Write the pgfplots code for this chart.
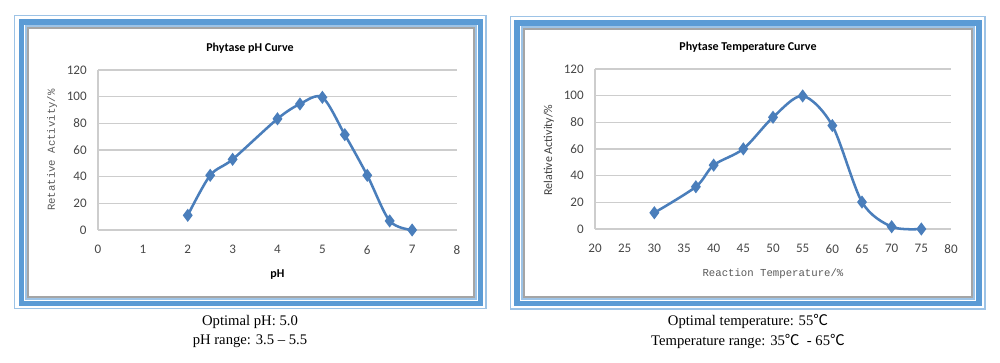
\documentclass[border=0pt]{standalone}
\usepackage{pgfplots}
\pgfplotsset{compat=1.18}
\usepackage{fontspec}
\setmainfont{Carlito}
\newfontfamily\serif{Liberation Serif}
\newfontfamily\mono{Liberation Mono}
\newfontfamily\cjk{Noto Sans CJK SC}
\definecolor{linec}{RGB}{74,126,187}
\definecolor{band}{RGB}{91,155,213}
\definecolor{lightb}{RGB}{157,195,230}
\definecolor{frameg}{RGB}{165,165,165}
\definecolor{gridc}{RGB}{205,205,205}
\pgfplotsset{
  chartstyle/.style={
    scale only axis, height=120pt,
    ymin=0, ymax=120, ytick={0,20,...,120},
    ymajorgrids, grid style={gridc, line width=0.9pt},
    axis x line*=bottom, axis y line*=left,
    axis line style={gridc, line width=0.9pt, -},
    major tick length=0pt,
    tick label style={font=\fontsize{9.8}{11}\selectfont, text=black!72},
    /pgf/number format/assume math mode=true,
    yticklabel style={xshift=-5pt},
    xticklabel style={yshift=-8pt},
    clip=false,
  },
  curvestyle/.style={color=linec, line width=1.9pt, smooth, tension=0.5,
    mark=diamond*, mark size=3.4pt, mark options={solid, fill=linec}},
}
\begin{document}
\begin{tikzpicture}[x=0.75pt,y=-0.75pt]
\path[use as bounding box] (0,0) rectangle (1000,362);
% left panel frame
\draw[lightb, line width=1.3pt] (14.5,15.5) rectangle (486,308.5);
\draw[band, line width=3.8pt] (21.5,22) rectangle (480.5,303.5);
\draw[lightb, line width=1pt] (26,26) rectangle (476,299);
\draw[frameg, line width=1.1pt] (28,28) rectangle (474,297);
% right panel frame
\draw[lightb, line width=1.3pt] (510.5,16.5) rectangle (985,309);
\draw[band, line width=3.8pt] (517,23) rectangle (979,303.5);
\draw[lightb, line width=1pt] (522,27) rectangle (974,299);
\draw[frameg, line width=1.1pt] (524,29) rectangle (972,297);

\begin{axis}[chartstyle, at={(73.5pt,-172.5pt)}, anchor=south west,
  width=269.25pt, xmin=0, xmax=8, xtick={0,1,...,8}]
\addplot[curvestyle] coordinates {
 (2,11) (2.5,41) (3,53) (4,83.4) (4.5,94.5) (5,99.5) (5.5,71.5) (6,41) (6.5,6.8) (7,0)};
\end{axis}

\begin{axis}[chartstyle, at={(446.25pt,-171.75pt)}, anchor=south west,
  width=267pt, xmin=20, xmax=80, xtick={20,25,...,80}]
\addplot[curvestyle] coordinates {
 (30,12.2) (37,31.7) (40,47.9) (45,60.1) (50,83.8) (55,99.8) (60,77.6) (65,20.2) (70,1.7) (75,0)};
\end{axis}

\node[font=\bfseries\fontsize{9}{11}\selectfont] at (250,48) {Phytase pH Curve};
\node[font=\bfseries\fontsize{9}{11}\selectfont] at (748,47) {Phytase Temperature Curve};
\node[rotate=90, font=\mono\fontsize{8}{10}\selectfont, text=black!65] at (52,150) {Retative Activity/\%};
\node[rotate=90, font=\fontsize{9}{11}\selectfont, text=black!75] at (549,150) {Relative Activity/\%};
\node[font=\bfseries\fontsize{9}{11}\selectfont] at (277.5,275) {pH};
\node[font=\mono\fontsize{8}{10}\selectfont, text=black!65] at (773,274) {Reaction Temperature/\%};

\node[font=\serif\fontsize{11}{13}\selectfont] at (250,321.5) {Optimal pH: 5.0};
\node[font=\serif\fontsize{11}{13}\selectfont] at (250,341.5) {pH range: 3.5 – 5.5};
\node[font=\serif\fontsize{11}{13}\selectfont] at (748,321.5) {Optimal temperature: 55{\cjk ℃}};
\node[font=\serif\fontsize{11}{13}\selectfont] at (748,341.5) {Temperature range: 35{\cjk ℃}\ \ - 65{\cjk ℃}};
\end{tikzpicture}
\end{document}
